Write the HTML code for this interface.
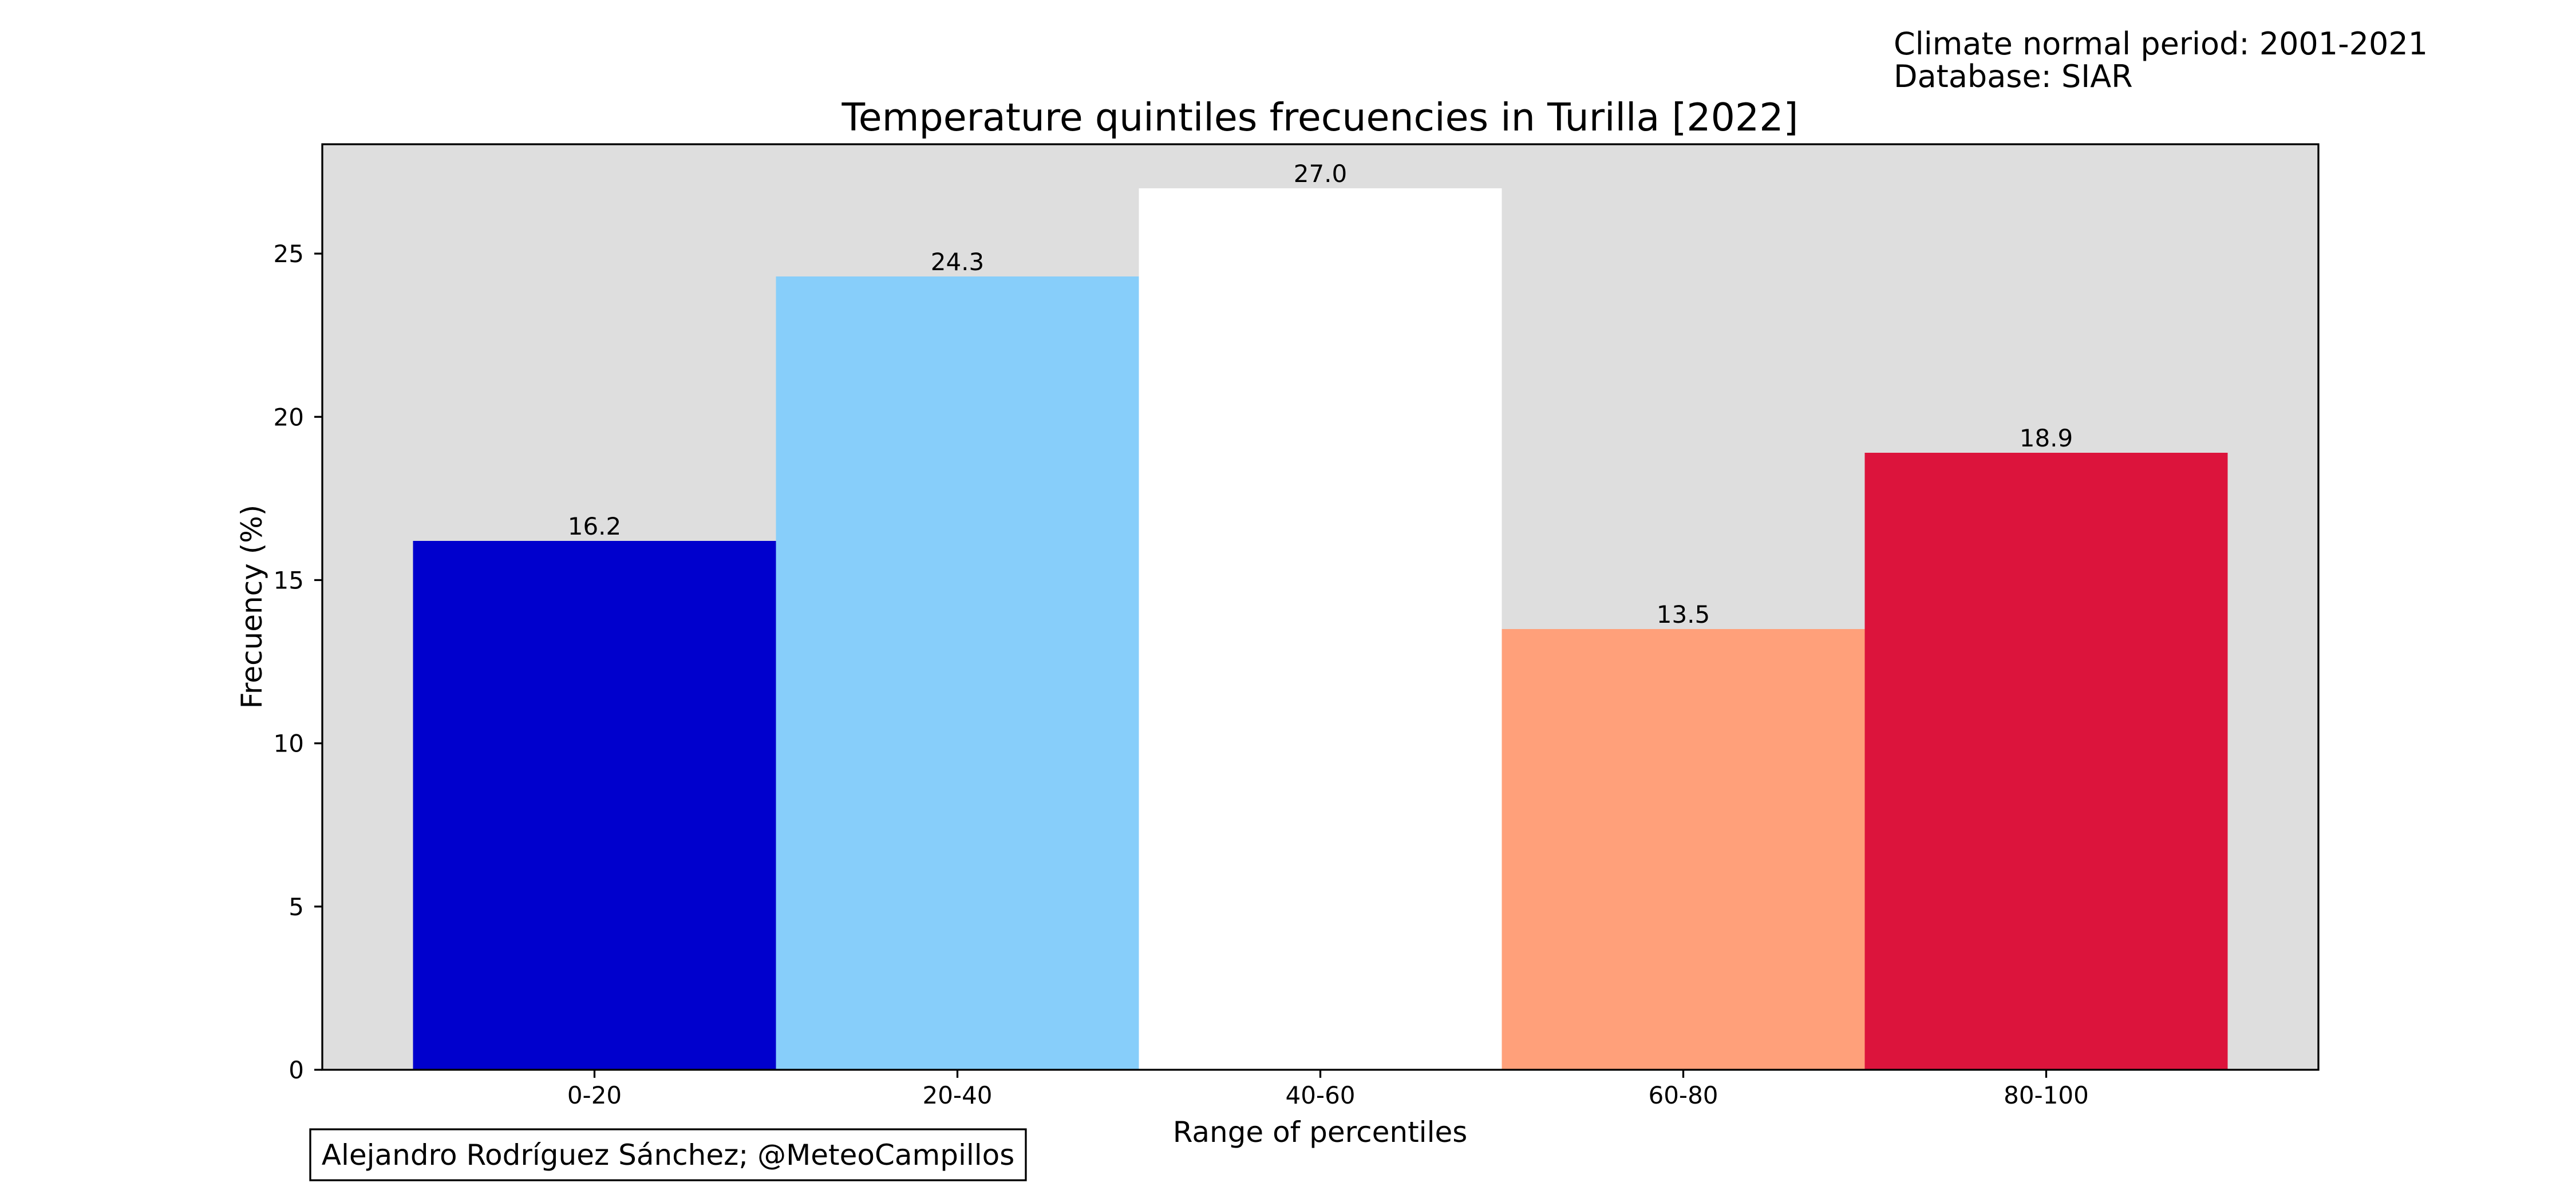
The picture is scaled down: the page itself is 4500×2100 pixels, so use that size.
<!DOCTYPE html>
<html><head><meta charset="utf-8"><style>
html,body{margin:0;padding:0;background:#fff;}
svg{display:block;font-family:"DejaVu Sans","Liberation Sans",sans-serif;}
</style></head><body>
<svg id="chart" width="4500" height="2100" viewBox="0 0 4500 2100" xmlns="http://www.w3.org/2000/svg">
<rect x="0" y="0" width="4500" height="2100" fill="#fff"/>
<rect x="563" y="252" width="3487" height="1617" fill="#dedede"/>
<g id="bars"></g>
<g id="xticks"></g>
<g id="yticks"></g>
<rect x="563" y="252" width="3487" height="1617" fill="none" stroke="#000" stroke-width="3.3"/>
<text x="2306" y="228" font-size="66.5" text-anchor="middle">Temperature quintiles frecuencies in Turilla [2022]</text>
<text x="3308" y="95" font-size="54">Climate normal period: 2001-2021</text>
<text x="3308" y="152" font-size="54">Database: SIAR</text>
<text x="2306" y="1995" font-size="50" text-anchor="middle">Range of percentiles</text>
<text x="0" y="0" font-size="50" text-anchor="middle" transform="translate(457,1060) rotate(-90)">Frecuency (%)</text>
<rect x="542" y="1973" width="1250" height="89" fill="#fff" stroke="#000" stroke-width="3.3"/>
<text x="1167" y="2035" font-size="50" text-anchor="middle">Alejandro Rodríguez Sánchez; @MeteoCampillos</text>
</svg>
<script>
const categories = ["0-20","20-40","40-60","60-80","80-100"];
const values = [16.2, 24.3, 27.0, 13.5, 18.9];
const colors = ["#0000cd","#87cefa","#ffffff","#ffa07a","#dc143c"];
const yTicks = [0,5,10,15,20,25];
const NS="http://www.w3.org/2000/svg";
const L=563,R=4050,T=252,B=1869;
const yMax=Math.max(...values)*1.05;
const n=categories.length;
const xMin=-0.75,xMax=n-1+0.75;
function xs(v){return L+(v-xMin)/(xMax-xMin)*(R-L);}
function ys(v){return B-v/yMax*(B-T);}
function mk(tag,attrs,parent){const e=document.createElementNS(NS,tag);for(const k in attrs)e.setAttribute(k,attrs[k]);parent.appendChild(e);return e;}
const gb=document.getElementById('bars'),gx=document.getElementById('xticks'),gy=document.getElementById('yticks');
const bw=xs(1)-xs(0);
values.forEach((v,i)=>{
  const x0=xs(i)-bw/2,y0=ys(v);
  const r=mk('rect',{x:x0,y:y0,width:bw,height:B-y0,fill:colors[i]},gb);
  
  
  const t=mk('text',{x:xs(i),y:y0-11,'font-size':42,'text-anchor':'middle'},gb);
  t.textContent=v.toFixed(1);
  
  
  const tk=mk('line',{x1:xs(i),x2:xs(i),y1:B,y2:B+14,stroke:'#000','stroke-width':3.3},gx);
  
  
  const tl=mk('text',{x:xs(i),y:1928,'font-size':42,'text-anchor':'middle'},gx);
  tl.textContent=categories[i];
  
  
});
yTicks.forEach(v=>{
  const tk=mk('line',{x1:L-14,x2:L,y1:ys(v),y2:ys(v),stroke:'#000','stroke-width':3.3},gy);
  
  
  const tl=mk('text',{x:531,y:ys(v)+15,'font-size':42,'text-anchor':'end'},gy);
  tl.textContent=v;
  
  
});
</script>
</body></html>
